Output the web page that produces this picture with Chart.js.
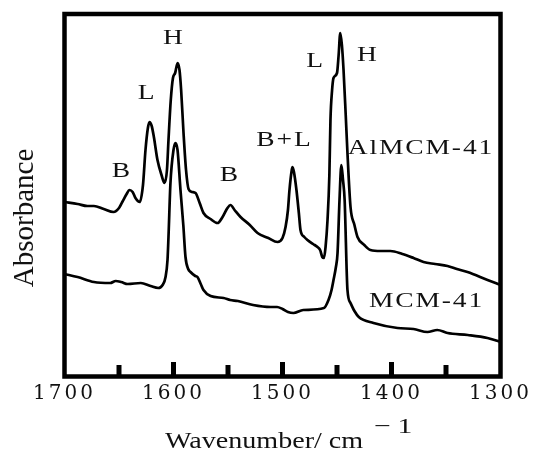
<!DOCTYPE html>
<html>
<head>
<meta charset="utf-8">
<script src="https://cdn.jsdelivr.net/npm/chart.js@4/dist/chart.umd.min.js"></script>
<style>
  html, body { margin: 0; padding: 0; background: #fff; }
  canvas { display: block; }
</style>
</head>
<body>
<canvas id="irChart" width="534" height="455"></canvas>
<script>
// FTIR of adsorbed pyridine (absorbance in arbitrary units)
const alWavenumber = [1700, 1688, 1679, 1673, 1664, 1655, 1650, 1647, 1643, 1640.4, 1637.5, 1634.9, 1631, 1628,
    1625.7, 1623.5, 1622, 1620, 1618, 1614.7, 1611, 1608.3, 1606, 1604.6, 1602.5, 1600.5, 1598.5, 1596.3, 1594.5,
    1593, 1590.8, 1588.5, 1586.2, 1583, 1579.8, 1576, 1572.5, 1566, 1559.6, 1555, 1550.5, 1547.7, 1544, 1538.5,
    1530, 1522.9, 1513, 1504.6, 1500, 1497.2, 1495, 1493.6, 1491.5, 1490.8, 1489.5, 1487.2, 1485, 1483.5, 1480,
    1477.1, 1472, 1467.9, 1465.5, 1463.5, 1462, 1460.5, 1458.7, 1457, 1456, 1454.5, 1453.2, 1450, 1448.5, 1447,
    1445.5, 1444, 1442, 1440.4, 1437.6, 1434, 1431.2, 1425, 1419.3, 1410, 1401, 1390, 1379.8, 1370.6, 1360,
    1348.6, 1340, 1330.3, 1311.9, 1300];
const alAbsorbance = [173, 171, 169, 169, 166, 163, 167, 173, 181, 185, 183, 177, 173, 190,
    225, 247, 253, 249, 238, 215, 200, 192, 205, 235, 275, 297, 302, 312, 305,
    285, 242, 205, 186, 183, 182, 172, 162, 156, 152, 158, 167, 170, 165, 158,
    150, 142, 137, 133, 137, 148, 165, 185, 205, 208, 203, 185, 162, 145, 138,
    135, 131, 128, 125, 118, 117, 128, 155, 200, 255, 285, 297, 302, 320, 342,
    330, 305, 260, 222, 168, 150, 138, 130, 125, 124, 124, 121, 117, 113, 111,
    109, 106, 103, 95, 90];

const mcmWavenumber = [1700, 1688, 1673, 1658, 1653, 1648, 1642, 1630, 1621, 1614, 1610, 1607.3, 1605.5, 1604.6,
    1602.8, 1600, 1598.2, 1596.3, 1593.6, 1591, 1589, 1586.5, 1584.4, 1580, 1578, 1575, 1572.5, 1566, 1554,
    1548, 1541, 1527, 1511, 1505, 1500, 1495, 1490, 1481, 1462, 1457.8, 1455, 1453.2, 1451, 1449.5, 1447.7,
    1446, 1444.5, 1443, 1440.4, 1437.6, 1434, 1430, 1416.5, 1394.5, 1379.8, 1367, 1358, 1348.6, 1330, 1312, 1300];
const mcmAbsorbance = [101, 98, 93, 92, 94, 93, 91, 92, 89, 87, 90, 98, 115, 138,
    192, 225, 232, 225, 185, 150, 118, 106, 103, 99, 98, 91, 85, 79, 77,
    75, 74, 70, 68, 68, 66, 63, 62, 65, 67, 75, 85, 95, 108, 122, 175,
    210, 195, 175, 85, 72, 64, 58, 52, 47, 46, 43, 45, 42, 40, 37, 33];

const xTickValues = [1700, 1650, 1600, 1550, 1500, 1450, 1400, 1350, 1300];
const seriesNames = ['AlMCM-41', 'MCM-41'];

// peak assignments: text placed at (wavenumber, absorbance)
const peakLabels = [
    { text: 'H', x: 1600.5, y: 337 },
    { text: 'L', x: 1625.2, y: 282 },
    { text: 'B', x: 1648.2, y: 204 },
    { text: 'B', x: 1549.1, y: 200 },
    { text: 'B+L', x: 1499.1, y: 235 },
    { text: 'L', x: 1470.6, y: 314 },
    { text: 'H', x: 1422.5, y: 320 },
    { text: seriesNames[0], x: 1373.9, y: 227 },
    { text: seriesNames[1], x: 1368.8, y: 74 }
];

function toPoints(xs, ys) {
    return xs.map((v, i) => ({ x: v, y: ys[i] }));
}

const TEXT = '#111';
const SERIF = '"Liberation Serif", "Times New Roman", serif';
const TICK_FONT = '"DejaVu Serif", serif';

// the figure's font is a wide serif, so stretch glyphs horizontally
function wideText(ctx, text, x, y, size, sx, spacing, align, baseline) {
    ctx.save();
    ctx.font = size + 'px ' + SERIF;
    ctx.letterSpacing = spacing + 'px';
    ctx.textAlign = align;
    ctx.textBaseline = baseline;
    ctx.translate(x, y);
    ctx.scale(sx, 1);
    ctx.fillText(text, 0, 0);
    const w = ctx.measureText(text).width * sx;
    ctx.restore();
    return w;
}

const decorPlugin = {
    id: 'irDecor',
    beforeLayout(chart) { chart.ctx.letterSpacing = '3px'; },
    beforeDraw(chart) { chart.ctx.letterSpacing = '3px'; },
    afterDraw(chart) {
        const ctx = chart.ctx;
        const a = chart.chartArea;
        const x = chart.scales.x;
        const y = chart.scales.y;
        ctx.save();
        ctx.letterSpacing = '0px';
        ctx.strokeStyle = '#000';

        // inward tick marks
        ctx.lineWidth = 5;
        ctx.lineCap = 'butt';
        x.ticks.forEach(t => {
            if (t.value === x.min || t.value === x.max) return;
            const px = x.getPixelForValue(t.value);
            const len = t.value % 100 === 0 ? 14.5 : 11.5;
            ctx.beginPath();
            ctx.moveTo(px, a.bottom);
            ctx.lineTo(px, a.bottom - len);
            ctx.stroke();
        });

        // frame
        ctx.lineWidth = 4.5;
        ctx.strokeRect(a.left, a.top, a.right - a.left, a.bottom - a.top);

        // peak labels
        ctx.fillStyle = TEXT;
        peakLabels.forEach(l => {
            wideText(ctx, l.text, x.getPixelForValue(l.x) + 1, y.getPixelForValue(l.y),
                22, 1.25, 1.5, 'center', 'middle');
        });

        // x title with superscript
        const startX = (a.left + a.right) / 2 - 117.5;
        const mainW = wideText(ctx, 'Wavenumber/ cm', startX, 448, 24, 1.17, 0, 'left', 'alphabetic');
        wideText(ctx, '\u22121', startX + mainW + 11, 433, 22, 1.35, 5, 'left', 'alphabetic');

        // y title
        ctx.font = '29px ' + SERIF;
        ctx.textAlign = 'center';
        ctx.textBaseline = 'alphabetic';
        ctx.translate(33, 218);
        ctx.rotate(-Math.PI / 2);
        ctx.fillText('Absorbance', 0, 0);
        ctx.restore();
    }
};

new Chart(document.getElementById('irChart'), {
    type: 'line',
    data: {
        datasets: [
            {
                label: seriesNames[0],
                data: toPoints(alWavenumber, alAbsorbance),
                borderColor: '#000',
                borderWidth: 2.7,
                pointRadius: 0,
                cubicInterpolationMode: 'monotone',
                fill: false
            },
            {
                label: seriesNames[1],
                data: toPoints(mcmWavenumber, mcmAbsorbance),
                borderColor: '#000',
                borderWidth: 2.7,
                pointRadius: 0,
                cubicInterpolationMode: 'monotone',
                fill: false
            }
        ]
    },
    options: {
        responsive: false,
        animation: false,
        devicePixelRatio: 1,
        layout: { padding: { left: 64.5, right: 33.5, top: 14, bottom: 0 } },
        plugins: { legend: { display: false }, tooltip: { enabled: false } },
        scales: {
            x: {
                type: 'linear',
                reverse: true,
                min: 1300,
                max: 1700,
                afterBuildTicks(scale) {
                    scale.ticks = xTickValues.map(v => ({ value: v }));
                },
                afterFit(scale) {
                    scale.height = 78.5;
                    scale.paddingLeft = 0;
                    scale.paddingRight = 0;
                },
                grid: { display: false, drawTicks: false },
                border: { display: false },
                ticks: {
                    autoSkip: false,
                    maxRotation: 0,
                    padding: 5,
                    color: TEXT,
                    font: { family: TICK_FONT, size: 20 },
                    callback: v => (v % 100 === 0 ? String(v) : '')
                }
            },
            y: {
                display: false,
                min: -1.5,
                max: 361
            }
        }
    },
    plugins: [decorPlugin]
});
</script>
</body>
</html>
